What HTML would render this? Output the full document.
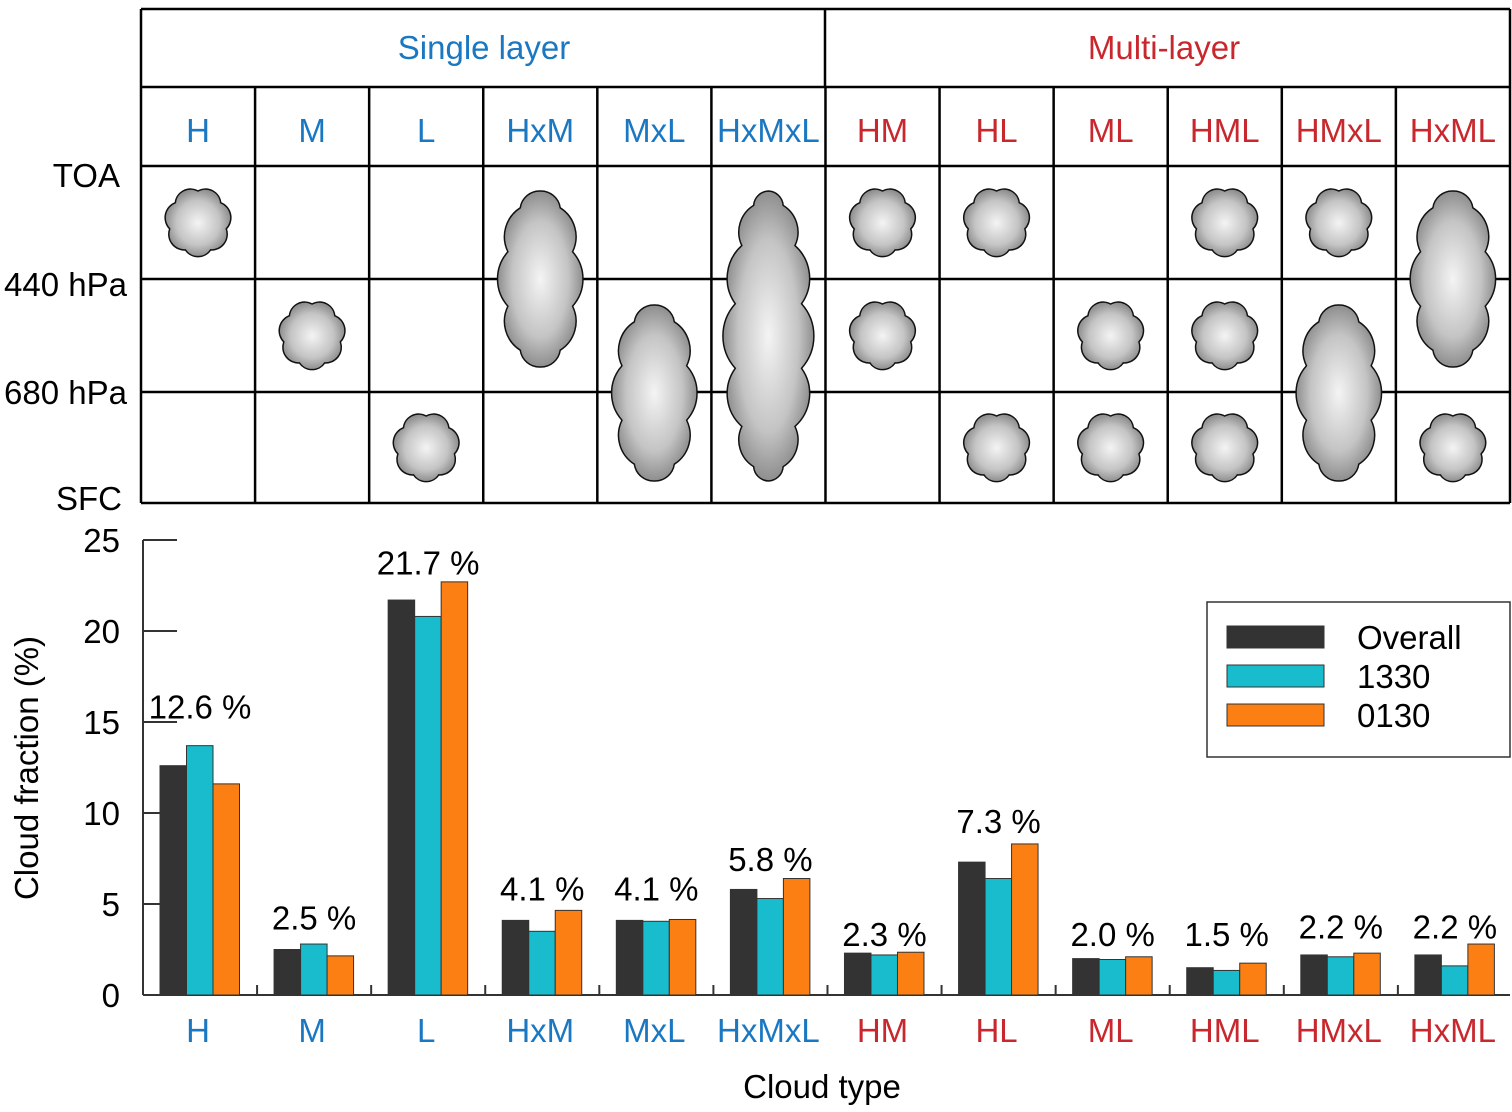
<!DOCTYPE html>
<html><head><meta charset="utf-8"><style>
body{margin:0;background:#fff;}
svg{display:block;font-family:"Liberation Sans",Arial,sans-serif;}
</style></head><body>
<svg id="c" width="1512" height="1112" viewBox="0 0 1512 1112">
<defs>
<radialGradient id="cg" cx="0.5" cy="0.5" r="0.6">
<stop offset="0" stop-color="#f4f4f4"/><stop offset="0.55" stop-color="#c4c4c4"/><stop offset="1" stop-color="#6e6e6e"/>
</radialGradient>
</defs>
</svg>
<script>
const categories=["H","M","L","HxM","MxL","HxMxL","HM","HL","ML","HML","HMxL","HxML"];
const overall=[12.6,2.5,21.7,4.1,4.1,5.8,2.3,7.3,2.0,1.5,2.2,2.2];
const s1330=[13.7,2.8,20.8,3.5,4.05,5.3,2.2,6.4,1.95,1.35,2.1,1.6];
const s0130=[11.6,2.15,22.7,4.65,4.15,6.4,2.35,8.3,2.1,1.75,2.3,2.8];
const labelAt=[15.2,3.6,23.1,5.2,5.2,6.8,2.7,8.9,2.7,2.7,3.1,3.1];
const yTicks=[0,5,10,15,20,25];
const seriesNames=["Overall","1330","0130"];
const NS="http://www.w3.org/2000/svg";
const svg=document.getElementById('c');
function el(t,a,txt){const e=document.createElementNS(NS,t);for(const k in a)e.setAttribute(k,a[k]);if(txt!==undefined)e.textContent=txt;svg.appendChild(e);return e;}
const blue="#1a78c2",red="#c8282d";
const FS=33;
const colX=i=>141+i*114.08;
const colC=i=>colX(i)+57;
const catColor=i=>i<6?blue:red;
const tb=el('g',{});


const lines=[[141,9,1510,9],[141,87,1510,87],[141,166,1510,166],[141,279,1510,279],[141,392,1510,392],[141,503,1510,503],[141,9,141,503],[1510,9,1510,503],[825,9,825,87]];
for(let i=1;i<12;i++)lines.push([colX(i),87,colX(i),503]);
lines.forEach(l=>{el('line',{x1:l[0],y1:l[1],x2:l[2],y2:l[3],stroke:'#000','stroke-width':2.5});});
let t=el('text',{x:484,y:59,'text-anchor':'middle','font-size':FS,fill:blue},'Single layer');

t=el('text',{x:1164,y:59,'text-anchor':'middle','font-size':FS,fill:red},'Multi-layer');

categories.forEach((c,i)=>{const e=el('text',{x:colC(i),y:142,'text-anchor':'middle','font-size':FS,fill:catColor(i)},c);

});
[["TOA",120,187],["440 hPa",127,296],["680 hPa",127,404],["SFC",122,510]].forEach(r=>{const e=el('text',{x:r[1],y:r[2],'text-anchor':'end','font-size':FS,fill:'#000'},r[0]);

});
function cloudPath(cx,cy,rx,ry,n,f){const pts=[];for(let k=0;k<n;k++){const a=-Math.PI/2+k*2*Math.PI/n;pts.push([cx+rx*Math.cos(a),cy+ry*Math.sin(a)]);}
let d='M'+pts[0][0]+','+pts[0][1];for(let k=0;k<n;k++){const p=pts[(k+1)%n];const q=pts[k];const dist=Math.hypot(p[0]-q[0],p[1]-q[1]);d+=' A'+(dist*f)+','+(dist*f)+' 0 0 1 '+p[0]+','+p[1];}return d+'Z';}
const rowC=[222,335,447];
function small(i,r){const e=el('path',{d:cloudPath(colC(i),rowC[r],29,31,7,0.6),fill:'url(#cg)',stroke:'#111','stroke-width':1.5});

}
function tall(i,cy,ry){const e=el('path',{d:cloudPath(colC(i),cy,34,ry,ry>120?14:10,0.75),fill:'url(#cg)',stroke:'#111','stroke-width':1.5});

}
small(0,0);small(1,1);small(2,2);tall(3,279,88);tall(4,393,88);tall(5,336,145);
small(6,0);small(6,1);small(7,0);small(7,2);small(8,1);small(8,2);small(9,0);small(9,1);small(9,2);
small(10,0);tall(10,393,88);tall(11,279,88);small(11,2);
const y0=995,pxu=18.2;
const Y=v=>y0-v*pxu;
const ax=el('g',{});

el('line',{x1:143,y1:Y(25),x2:143,y2:y0,stroke:'#333','stroke-width':2});
el('line',{x1:143,y1:y0,x2:1510,y2:y0,stroke:'#333','stroke-width':2});
yTicks.forEach(v=>{if(v>0)el('line',{x1:143,y1:Y(v),x2:177,y2:Y(v),stroke:'#333','stroke-width':2});
const e=el('text',{x:120,y:Y(v)+12,'text-anchor':'end','font-size':FS,fill:'#000'},String(v));

});
for(let i=1;i<12;i++)el('line',{x1:colX(i)+2,y1:y0,x2:colX(i)+2,y2:y0-10,stroke:'#333','stroke-width':2});
const cols=["#333333","#18bccd","#fb7f12"];
const series=[overall,s1330,s0130];
categories.forEach((c,i)=>{
 series.forEach((s,k)=>{const x=colX(i)+19+k*26.5;const b=el('rect',{x:x,y:Y(s[i]),width:26.5,height:s[i]*pxu,fill:cols[k],stroke:'#333','stroke-width':1});
 
 });
 const l=el('text',{x:colC(i)+2,y:Y(labelAt[i]),'text-anchor':'middle','font-size':FS,fill:'#000'},overall[i].toFixed(1)+' %');
 
 
 const xl=el('text',{x:colC(i),y:1042,'text-anchor':'middle','font-size':FS,fill:catColor(i)},c);
 
 
});
t=el('text',{x:822,y:1098,'text-anchor':'middle','font-size':FS,fill:'#000'},'Cloud type');

t=el('text',{x:38,y:768,'text-anchor':'middle','font-size':FS,fill:'#000',transform:'rotate(-90 38 768)'},'Cloud fraction (%)');

const lg=el('rect',{x:1207,y:602,width:303,height:155,fill:'#fff',stroke:'#333','stroke-width':1.5});

seriesNames.forEach((n,k)=>{const yy=626+k*39;
 const r=el('rect',{x:1227,y:yy,width:97,height:22,fill:cols[k],stroke:'#333','stroke-width':1});
 
 
 const e=el('text',{x:1357,y:yy+23,'font-size':FS,fill:'#000'},n);
 
 });
</script>
</body></html>
